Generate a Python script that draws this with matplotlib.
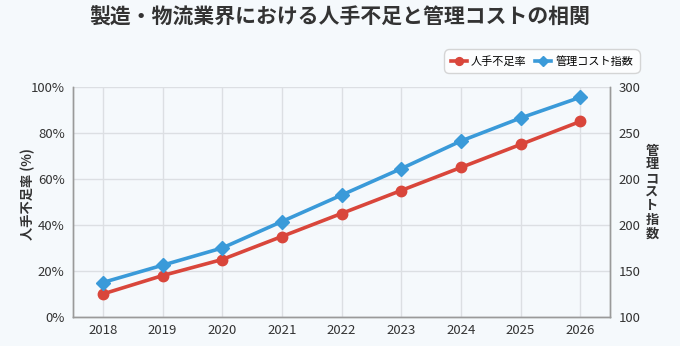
import matplotlib
matplotlib.use("Agg")
import matplotlib.pyplot as plt
from matplotlib.ticker import FixedLocator, FixedFormatter

plt.rcParams['font.family'] = ['Noto Sans CJK JP', 'DejaVu Sans']

years = ['2018', '2019', '2020', '2021', '2022', '2023', '2024', '2025', '2026']
shortage = [10, 18, 25, 35, 45, 55, 65, 75, 85]
cost_index = [130, 145, 160, 183, 206, 229, 253, 273, 291]
left_ticks = [0, 20, 40, 60, 80, 100]
left_labels = ['0%', '20%', '40%', '60%', '80%', '100%']
right_ticks = [100, 140, 180, 220, 260, 300]
right_labels = ['100', '150', '200', '200', '250', '300']

bg = '#f5f9fc'
red = '#d9463b'
blue = '#3a9ad9'
grid_c = '#dcdfe3'
text_c = '#333333'

fig = plt.figure(figsize=(6.8, 3.46), dpi=100, facecolor=bg)
ax = fig.add_axes([73/680, 1-317/346, (610-73)/680, (317-87)/346])
ax.set_facecolor(bg)
ax2 = ax.twinx()

x = list(range(len(years)))
l1, = ax.plot(x, shortage, color=red, lw=2.6, marker='o', ms=7.5, label='人手不足率', zorder=3)
l2, = ax2.plot(x, cost_index, color=blue, lw=2.6, marker='D', ms=7, label='管理コスト指数', zorder=3)

ax.set_xlim(-0.5, len(years) - 0.5)
ax.set_ylim(0, 100)
ax2.set_ylim(100, 300)
ax.set_xticks(x)
ax.set_xticklabels(years)
ax.yaxis.set_major_locator(FixedLocator(left_ticks))
ax.yaxis.set_major_formatter(FixedFormatter(left_labels))
ax2.yaxis.set_major_locator(FixedLocator(right_ticks))
ax2.yaxis.set_major_formatter(FixedFormatter(right_labels))

ax.grid(True, color=grid_c, lw=1)
ax.set_axisbelow(True)
for a in (ax, ax2):
    a.spines['top'].set_visible(False)
    for s in ('left', 'right', 'bottom'):
        a.spines[s].set_color('#9a9a9a')
        a.spines[s].set_linewidth(1)
    a.tick_params(length=0, labelsize=9.5, colors=text_c, pad=6)
ax.tick_params(axis='x', pad=5)

fig.text(28/680, 1-194/346, '人手不足率 (%)', fontsize=9.5, color=text_c, fontweight='bold',
         rotation=90, ha='center', va='center')
fig.text(652/680, 1-192/346, '\n'.join('管理コスト指数'), fontsize=9.5, color=text_c,
         fontweight='bold', ha='center', va='center', linespacing=0.98)

fig.text(0.5, 1-17/346, '製造・物流業界における人手不足と管理コストの相関', fontsize=15,
         fontweight='bold', color='#333333', ha='center', va='center')

leg = fig.legend(handles=[l1, l2], loc='upper right', bbox_to_anchor=(643/680, 1-46/346),
                 ncol=2, fontsize=8, frameon=True, handlelength=1.5, columnspacing=0.7,
                 handletextpad=0.35, borderpad=0.4, markerscale=0.75)
leg.get_frame().set_facecolor('white')
leg.get_frame().set_edgecolor('#cccccc')
leg.get_frame().set_boxstyle('round,pad=0.2,rounding_size=0.5')

fig.savefig('out.png', dpi=100, facecolor=bg)
